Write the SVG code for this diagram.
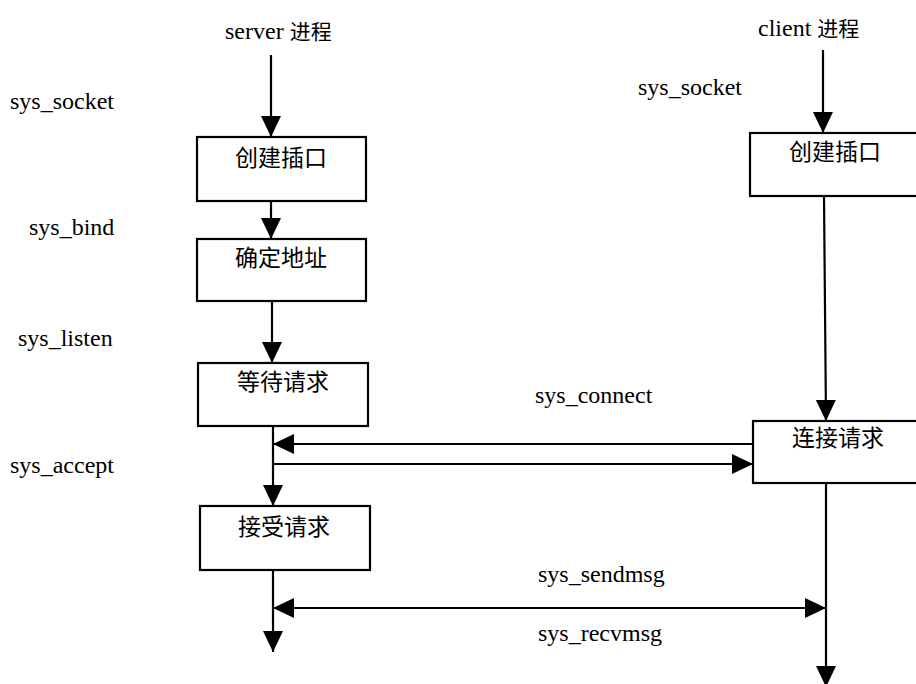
<svg xmlns="http://www.w3.org/2000/svg" width="916" height="684" viewBox="0 0 916 684">
  <style>
    .lbl { font-family: "Liberation Serif", "Noto Sans CJK SC", serif; font-size: 24px; fill: #000; }
    .cjk { font-family: "Noto Sans CJK SC", sans-serif; font-size: 23px; fill: #000; text-anchor: middle; }
    .box { fill: #fff; stroke: #000; stroke-width: 2.2; }
    .wire { fill: none; stroke: #000; stroke-width: 2.2; }
  </style>
  <defs>
    <marker id="head" markerUnits="userSpaceOnUse" markerWidth="22" markerHeight="22" refX="21" refY="11" orient="auto-start-reverse">
      <path d="M0,1 L21,11 L0,21 Z" fill="#000"/>
    </marker>
  </defs>
  <rect width="916" height="684" fill="#fff"/>

  <!-- process titles and system call labels -->
  <g id="labels">
    <text class="lbl" x="225" y="39">server <tspan font-family="Noto Sans CJK SC, sans-serif" font-size="21">进程</tspan></text>
    <text class="lbl" x="758" y="36">client <tspan font-family="Noto Sans CJK SC, sans-serif" font-size="21">进程</tspan></text>
    <text class="lbl" x="10" y="109">sys_socket</text>
    <text class="lbl" x="29" y="235">sys_bind</text>
    <text class="lbl" x="18" y="346">sys_listen</text>
    <text class="lbl" x="10" y="473">sys_accept</text>
    <text class="lbl" x="638" y="95">sys_socket</text>
    <text class="lbl" x="535" y="403">sys_connect</text>
    <text class="lbl" x="538" y="582">sys_sendmsg</text>
    <text class="lbl" x="538" y="641">sys_recvmsg</text>
  </g>

  <!-- connectors -->
  <g id="connectors">
    <line class="wire" x1="271" y1="55" x2="271" y2="137" marker-end="url(#head)"/>
    <line class="wire" x1="271" y1="201" x2="271" y2="239" marker-end="url(#head)"/>
    <line class="wire" x1="272" y1="301" x2="272" y2="363" marker-end="url(#head)"/>
    <line class="wire" x1="273" y1="426" x2="273" y2="506" marker-end="url(#head)"/>
    <line class="wire" x1="273" y1="570" x2="273" y2="652" marker-end="url(#head)"/>
    <line class="wire" x1="753" y1="444" x2="273" y2="444" marker-end="url(#head)"/>
    <line class="wire" x1="273" y1="464" x2="753" y2="464" marker-end="url(#head)"/>
    <line class="wire" x1="273" y1="608" x2="826" y2="608" marker-start="url(#head)" marker-end="url(#head)"/>
    <line class="wire" x1="823" y1="50" x2="823" y2="133" marker-end="url(#head)"/>
    <line class="wire" x1="824" y1="196" x2="826" y2="421" marker-end="url(#head)"/>
    <line class="wire" x1="826" y1="483" x2="826" y2="687" marker-end="url(#head)"/>
  </g>

  <!-- server nodes -->
  <g id="srv-create">
    <rect class="box" x="197" y="137" width="169" height="64"/>
    <text class="cjk" x="281" y="166">创建插口</text>
  </g>
  <g id="srv-bind">
    <rect class="box" x="197" y="239" width="169" height="62"/>
    <text class="cjk" x="281" y="266">确定地址</text>
  </g>
  <g id="srv-listen">
    <rect class="box" x="198" y="363" width="170" height="63"/>
    <text class="cjk" x="283" y="390">等待请求</text>
  </g>
  <g id="srv-accept">
    <rect class="box" x="200" y="506" width="170" height="64"/>
    <text class="cjk" x="284" y="535">接受请求</text>
  </g>

  <!-- client nodes -->
  <g id="cli-create">
    <rect class="box" x="750" y="133" width="180" height="63"/>
    <text class="cjk" x="835" y="160">创建插口</text>
  </g>
  <g id="cli-connect">
    <rect class="box" x="753" y="421" width="180" height="62"/>
    <text class="cjk" x="838" y="446">连接请求</text>
  </g>
</svg>
